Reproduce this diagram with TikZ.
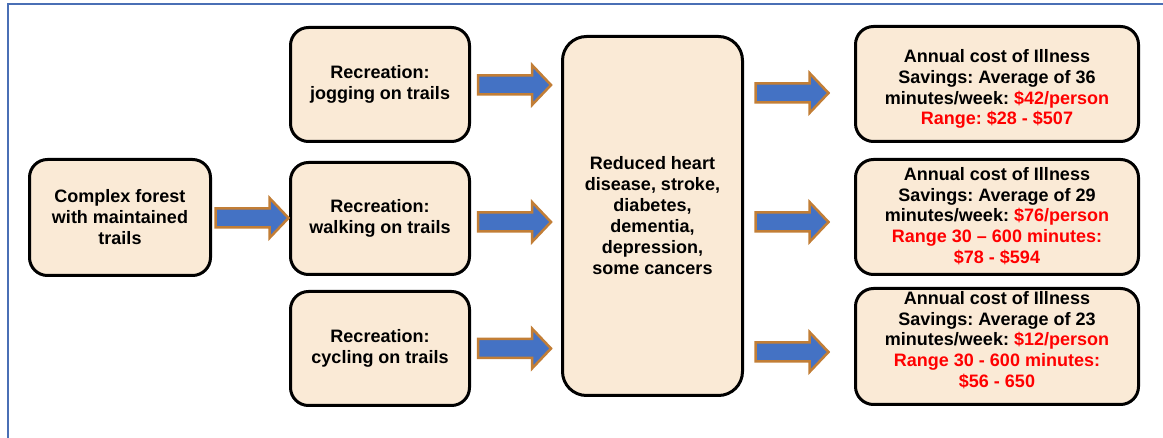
\documentclass[tikz,border=0pt]{standalone}
\usepackage{fontspec}
\setmainfont{Liberation Sans}
\usetikzlibrary{calc}
\frenchspacing
\definecolor{boxfill}{HTML}{FAEAD6}
\definecolor{arrowblue}{HTML}{4472C4}
\definecolor{arrowedge}{HTML}{C27E36}
\definecolor{framecol}{HTML}{4A6FB5}
\definecolor{hot}{HTML}{FF0000}
\tikzset{
  box/.style={draw=black, line width=3pt, fill=boxfill, rounded corners=18pt,
    align=center, inner sep=0pt,
    font=\bfseries\fontsize{18}{21}\selectfont},
  txt/.style={align=center, inner sep=0pt,
    font=\bfseries\fontsize{18}{20.8}\selectfont},
  arrowline/.style={draw=arrowedge, line width=2.5pt, fill=arrowblue, line join=miter},
  pics/blockarrow/.style={code={
    \path[arrowline] (0,-9.5) -- (54,-9.5) -- (54,-20) -- (73,0) -- (54,20)
      -- (54,9.5) -- (0,9.5) -- cycle;}}
}
\begin{document}
\begin{tikzpicture}[x=1pt,y=-1pt]
\useasboundingbox (0,0) rectangle (1163,438);
% page frame
\draw[framecol, line width=1.3pt] (8,438) -- (8,4) -- (1163,4);

% source
\node[box, minimum width=181pt, minimum height=116pt] (forest) at (120,217.5)
  {Complex forest\\with maintained\\trails};

% recreation boxes
\node[box, minimum width=179pt, minimum height=114pt] (jog) at (380,84.5)
  {Recreation:\\jogging on trails};
\node[box, minimum width=179pt, minimum height=112pt] (walk) at (380,218.5)
  {Recreation:\\walking on trails};
\node[box, minimum width=179pt, minimum height=114pt] (cycle) at (380,348.5)
  {Recreation:\\cycling on trails};

% health outcome
\node[box, rounded corners=24pt, minimum width=180pt, minimum height=359pt] (health) at (652.5,216)
  {Reduced heart\\disease, stroke,\\diabetes,\\dementia,\\depression,\\some cancers};

% savings boxes
\node[box, minimum width=283pt, minimum height=115pt] (cost1) at (997,84) {};
\node[txt] at ([yshift=-5pt]cost1.center)
  {Annual cost of Illness\\Savings: Average of 36\\minutes/week: \textcolor{hot}{\$42/person}\\
   \textcolor{hot}{Range: \$28 - \$507}};
\node[box, minimum width=283pt, minimum height=115pt] (cost2) at (997,217) {};
\node[txt] at ([yshift=1pt]cost2.center)
  {Annual cost of Illness\\Savings: Average of 29\\minutes/week: \textcolor{hot}{\$76/person}\\
   \textcolor{hot}{Range 30 – 600 minutes:}\\\textcolor{hot}{\$78 - \$594}};
\node[box, minimum width=283pt, minimum height=116pt] (cost3) at (997,346.5) {};
\node[txt] at ([yshift=6.5pt]cost3.center)
  {Annual cost of Illness\\Savings: Average of 23\\minutes/week: \textcolor{hot}{\$12/person}\\
   \textcolor{hot}{Range 30 - 600 minutes:}\\\textcolor{hot}{\$56 - 650}};

% block arrows
\pic at ($(forest.east)+(3.5,0.5)$) {blockarrow};
\pic at ($(jog.east)+(7,0.5)$) {blockarrow};
\pic at ($(walk.east)+(7,3.5)$) {blockarrow};
\pic at ($(cycle.east)+(7,0)$) {blockarrow};
\pic at ($(health.east)+(11.5,-123)$) {blockarrow};
\pic at ($(health.east)+(11.5,6)$) {blockarrow};
\pic at ($(health.east)+(11.5,136)$) {blockarrow};
\end{tikzpicture}
\end{document}
